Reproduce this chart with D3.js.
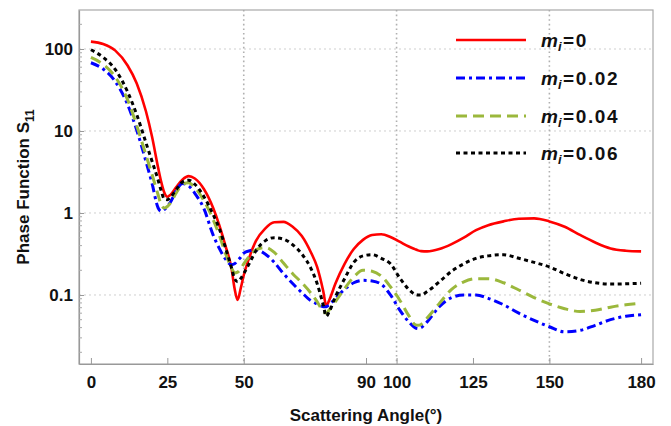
<!DOCTYPE html>
<html>
<head>
<meta charset="utf-8">
<script src="https://cdnjs.cloudflare.com/ajax/libs/d3/7.8.5/d3.min.js"></script>
<style>
  html, body { margin: 0; padding: 0; background: #fff; }
  svg { display: block; font-family: Arial, "Liberation Sans", sans-serif; }
</style>
</head>
<body>
<svg id="chart" width="671" height="426"></svg>
<script>
// ---------------- data ----------------
const angles = [0, 4, 8, 12, 15, 18, 20, 22, 23, 24, 25, 26, 28, 30, 32, 34, 37, 40, 42, 44, 46, 47, 48, 49, 50, 52, 54, 57, 60, 63, 66, 69, 72, 74, 76, 77, 78, 80, 83, 86, 89, 92, 95, 98, 101, 104, 106, 107, 108, 110, 114, 118, 122, 126, 130, 135, 140, 145, 150, 155, 160, 165, 170, 175, 180];

const s11_m0 = [123, 115, 95.5, 63, 38, 17.4, 8.5, 3.55, 2.4, 1.78, 1.58, 1.66, 2.09, 2.57, 2.82, 2.63, 1.95, 1.15, 0.71, 0.40, 0.21, 0.12, 0.087, 0.12, 0.174, 0.30, 0.457, 0.646, 0.77, 0.78, 0.68, 0.525, 0.33, 0.22, 0.112, 0.074, 0.087, 0.138, 0.24, 0.363, 0.47, 0.54, 0.55, 0.51, 0.447, 0.39, 0.363, 0.35, 0.343, 0.34, 0.363, 0.417, 0.50, 0.617, 0.71, 0.79, 0.85, 0.86, 0.79, 0.68, 0.54, 0.437, 0.37, 0.347, 0.34];

const s11_m002 = [68, 57, 40, 21, 10.2, 4.27, 2.29, 1.15, 1.05, 1.1, 1.2, 1.35, 1.9, 2.29, 2.14, 1.74, 1.12, 0.537, 0.37, 0.275, 0.234, 0.24, 0.263, 0.288, 0.324, 0.347, 0.355, 0.316, 0.25, 0.182, 0.138, 0.107, 0.085, 0.078, 0.072, 0.072, 0.076, 0.091, 0.117, 0.141, 0.151, 0.148, 0.135, 0.10, 0.066, 0.047, 0.040, 0.039, 0.040, 0.047, 0.072, 0.093, 0.10, 0.10, 0.091, 0.076, 0.060, 0.049, 0.041, 0.0355, 0.037, 0.0427, 0.050, 0.055, 0.0575];

const s11_m004 = [79, 65, 45.5, 24, 11.6, 5.1, 2.95, 1.66, 1.26, 1.15, 1.2, 1.32, 1.78, 2.24, 2.34, 2.04, 1.41, 0.83, 0.537, 0.324, 0.214, 0.186, 0.19, 0.209, 0.24, 0.30, 0.355, 0.38, 0.33, 0.245, 0.182, 0.141, 0.105, 0.083, 0.063, 0.06, 0.066, 0.083, 0.12, 0.166, 0.20, 0.195, 0.17, 0.126, 0.087, 0.056, 0.0437, 0.0427, 0.0437, 0.0525, 0.079, 0.117, 0.145, 0.158, 0.158, 0.141, 0.115, 0.093, 0.078, 0.068, 0.063, 0.065, 0.071, 0.076, 0.079];

const s11_m006 = [98, 79, 56, 30, 15.8, 7.2, 4.27, 2.51, 1.86, 1.48, 1.45, 1.55, 1.95, 2.4, 2.51, 2.24, 1.58, 0.955, 0.646, 0.38, 0.214, 0.158, 0.145, 0.158, 0.182, 0.25, 0.347, 0.457, 0.50, 0.48, 0.41, 0.316, 0.21, 0.138, 0.076, 0.055, 0.063, 0.095, 0.158, 0.25, 0.30, 0.31, 0.28, 0.24, 0.162, 0.117, 0.102, 0.10, 0.10, 0.11, 0.145, 0.195, 0.24, 0.28, 0.30, 0.31, 0.28, 0.25, 0.22, 0.182, 0.155, 0.141, 0.136, 0.137, 0.139];

const legendLabels = ["0", "0.02", "0.04", "0.06"];
const xTickValues = [0, 25, 50, 90, 100, 125, 150, 180];
const yTickValues = [0.1, 1, 10, 100];
const yTickLabels = ["0.1", "1", "10", "100"];
const xGridValues = [50, 100, 150];
const xTitle = "Scattering Angle(°)";
const yTitle = "Phase Function S";
const yTitleSub = "11";

// ---------------- styles ----------------
const seriesStyles = [
  { color: "#ff0000", dash: null, width: 2.6 },
  { color: "#0000ff", dash: "9,4,3,4", width: 3 },
  { color: "#9bb83c", dash: "11,6", width: 3 },
  { color: "#000000", dash: "4,3.5", width: 3 }
];
const seriesData = [s11_m0, s11_m002, s11_m004, s11_m006];

// ---------------- layout ----------------
const svg = d3.select("#chart");
const pL = 79, pR = 653, pT = 10, pB = 364;

const x = d3.scaleLinear().domain([-3.9, 183.9]).range([pL, pR]);
const y = d3.scaleLog().domain([0.0144, 299]).range([pB, pT]);

// clip
svg.append("defs").append("clipPath").attr("id", "plotclip")
  .append("rect").attr("x", pL).attr("y", pT)
  .attr("width", pR - pL).attr("height", pB - pT);

// horizontal grid
svg.append("g").selectAll("line").data(yTickValues).join("line")
  .attr("x1", pL).attr("x2", pR)
  .attr("y1", d => y(d)).attr("y2", d => y(d))
  .attr("stroke", "#cfcfcf").attr("stroke-width", 1)
  .attr("stroke-dasharray", "2,3");

// vertical grid
svg.append("g").selectAll("line").data(xGridValues).join("line")
  .attr("x1", d => x(d)).attr("x2", d => x(d))
  .attr("y1", pT).attr("y2", pB)
  .attr("stroke", "#b0b0b0").attr("stroke-width", 1.6)
  .attr("stroke-dasharray", "1.6,3");

// frame
svg.append("rect").attr("x", pL).attr("y", pT)
  .attr("width", pR - pL).attr("height", pB - pT)
  .attr("fill", "none").attr("stroke", "#a8a8a8").attr("stroke-width", 1.2);

// x axis
const xAxis = d3.axisBottom(x).tickValues(xTickValues)
  .tickFormat(d3.format("d")).tickSizeInner(-6).tickSizeOuter(0).tickPadding(12);
const gx = svg.append("g").attr("transform", `translate(0,${pB})`).call(xAxis);
gx.select(".domain").attr("stroke", "#999").attr("stroke-width", 1.2);
gx.selectAll(".tick line").attr("stroke", "#999");
gx.selectAll(".tick text").attr("font-size", 17).attr("font-weight", "bold")
  .attr("fill", "#111").attr("font-family", "Arial, 'Liberation Sans', sans-serif");

// y axis
const yAxis = d3.axisLeft(y).tickValues(yTickValues)
  .tickFormat((d, i) => yTickLabels[i]).tickSizeInner(-5).tickSizeOuter(0).tickPadding(6);
const gy = svg.append("g").attr("transform", `translate(${pL},0)`).call(yAxis);
gy.select(".domain").attr("stroke", "#999").attr("stroke-width", 1.2);
gy.selectAll(".tick line").attr("stroke", "#999");
gy.selectAll(".tick text").attr("font-size", 17).attr("font-weight", "bold")
  .attr("fill", "#111").attr("font-family", "Arial, 'Liberation Sans', sans-serif");

// minor y ticks
const minorTicks = [];
[-2, -1, 0, 1, 2].forEach(k => {
  for (let m = 2; m <= 9; m++) {
    const v = m * Math.pow(10, k);
    if (v > y.domain()[0] && v < y.domain()[1]) minorTicks.push(v);
  }
});
svg.append("g").selectAll("line").data(minorTicks).join("line")
  .attr("x1", pL).attr("x2", pL + 3)
  .attr("y1", d => y(d)).attr("y2", d => y(d))
  .attr("stroke", "#aaa").attr("stroke-width", 1);

// curves
const line = d3.line()
  .x((d, i) => x(angles[i]))
  .y(d => y(d))
  .curve(d3.curveMonotoneX);

const gLines = svg.append("g").attr("clip-path", "url(#plotclip)");
seriesData.forEach((data, k) => {
  const st = seriesStyles[k];
  gLines.append("path")
    .attr("d", line(data))
    .attr("fill", "none")
    .attr("stroke", st.color)
    .attr("stroke-width", st.width)
    .attr("stroke-dasharray", st.dash)
    .attr("stroke-linejoin", "round");
});

// legend
const legY = [40, 78, 116, 153];
const gLeg = svg.append("g");
legendLabels.forEach((lab, k) => {
  const st = seriesStyles[k];
  gLeg.append("line")
    .attr("x1", 456).attr("x2", 526)
    .attr("y1", legY[k]).attr("y2", legY[k])
    .attr("stroke", st.color).attr("stroke-width", st.width)
    .attr("stroke-dasharray", st.dash);
  const t = gLeg.append("text")
    .attr("x", 541).attr("y", legY[k] + 7)
    .attr("font-size", 19).attr("font-weight", "bold").attr("fill", "#111");
  t.append("tspan").attr("font-style", "italic").text("m");
  t.append("tspan").attr("font-style", "italic").attr("font-size", 13)
    .attr("dy", 4).text("i");
  t.append("tspan").attr("dy", -4).attr("dx", 1.5).attr("letter-spacing", 1.6).text("=" + lab);
});

// axis titles
svg.append("text")
  .attr("x", (pL + pR) / 2).attr("y", 421)
  .attr("text-anchor", "middle")
  .attr("font-size", 17).attr("font-weight", "bold").attr("fill", "#111")
  .text(xTitle);

const yt = svg.append("text")
  .attr("transform", `translate(29,${(pT + pB) / 2}) rotate(-90)`)
  .attr("text-anchor", "middle")
  .attr("font-size", 17).attr("font-weight", "bold").attr("fill", "#111");
yt.append("tspan").text(yTitle);
yt.append("tspan").attr("font-size", 12).attr("dy", 5).text(yTitleSub);
</script>
</body>
</html>
